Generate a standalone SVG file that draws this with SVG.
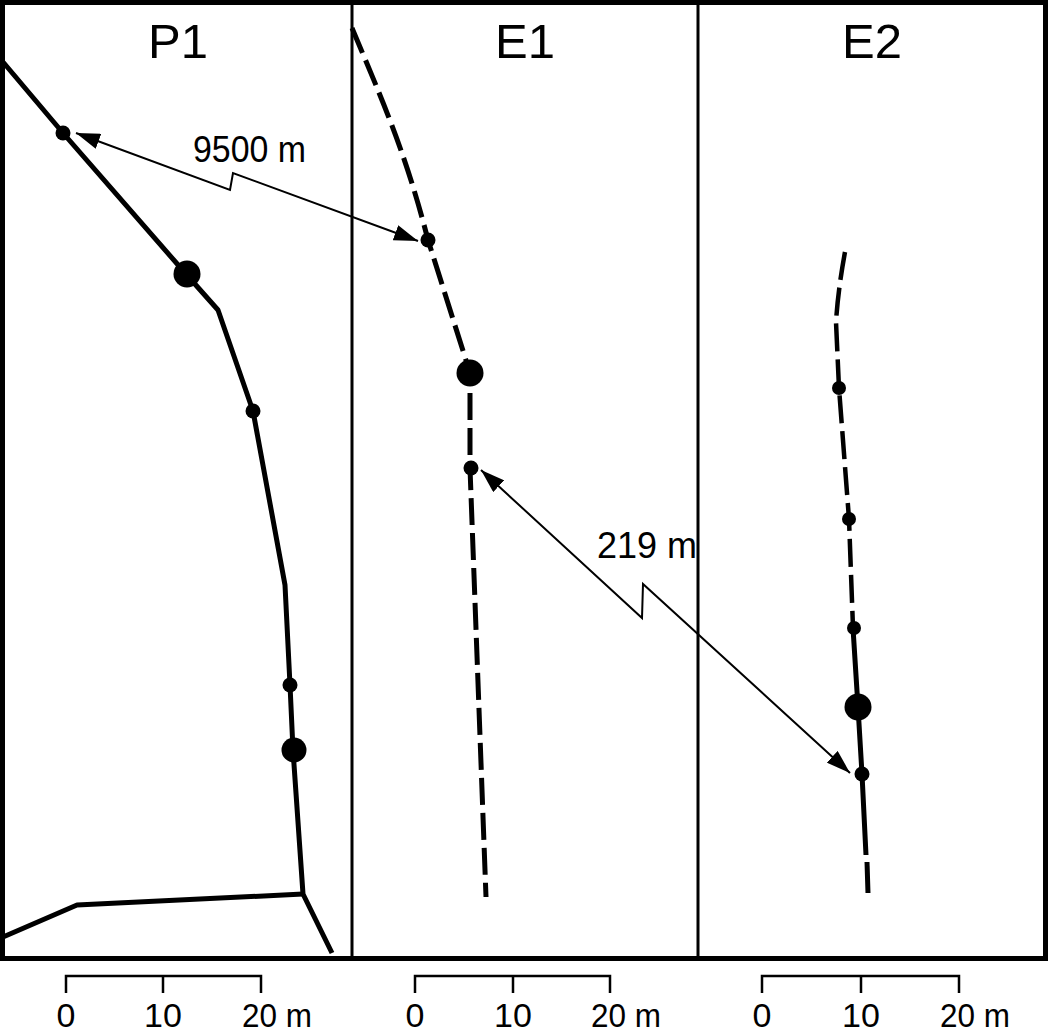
<svg xmlns="http://www.w3.org/2000/svg" width="1050" height="1034" viewBox="0 0 1050 1034">
<style>
text{font-family:"Liberation Sans",Arial,sans-serif;fill:#000}
.title{font-size:49px;text-anchor:middle}
.lab{font-size:36px}
.sc{font-size:34px;text-anchor:middle}
.scm{font-size:34px}
.well{fill:none;stroke:#000;stroke-width:5;stroke-linejoin:round}
.dash1{stroke-dasharray:27 8}
.dash2{stroke-width:4.5;stroke-dasharray:28 8}
.dot{fill:#000}
.arr{fill:none;stroke:#000;stroke-width:2;marker-start:url(#ah);marker-end:url(#ah)}
.bar{fill:none;stroke:#000;stroke-width:2.5}
</style>
<defs>
<marker id="ah" viewBox="0 0 24 16" refX="24" refY="8" markerWidth="24" markerHeight="16" markerUnits="userSpaceOnUse" orient="auto-start-reverse">
<path d="M0,0 L24,8 L0,16 Z" fill="#000"/>
</marker>
</defs>
<g id="frame">
<rect x="2.5" y="2.5" width="1043" height="956" fill="#fff" stroke="#000" stroke-width="5"/>
<line x1="352" y1="2" x2="352" y2="959" stroke="#000" stroke-width="3"/>
<line x1="698" y1="2" x2="698" y2="959" stroke="#000" stroke-width="3"/>
</g>
<g id="titles">
<text class="title" x="178" y="58">P1</text>
<text class="title" x="525" y="58">E1</text>
<text class="title" x="872" y="58">E2</text>
</g>
<g id="P1">
<path class="well" d="M3,62 L63,133 L186,274 L218,310 L253,411 L285,585 L290,685 L293,750 L303,894 L332,953"/>
<path class="well" d="M303,894 L77,905 L3,937"/>
<circle class="dot" cx="63" cy="133" r="7.5"/>
<circle class="dot" cx="187" cy="274" r="13.5"/>
<circle class="dot" cx="253" cy="411" r="7.5"/>
<circle class="dot" cx="290" cy="685" r="7.5"/>
<circle class="dot" cx="294" cy="750" r="12.5"/>
</g>
<g id="E1">
<path class="well dash1" d="M352,28 C380,95 405,150 428,240 L470,373 L470,468 L486,897"/>
<circle class="dot" cx="428" cy="240" r="7.5"/>
<circle class="dot" cx="470" cy="373" r="13.5"/>
<circle class="dot" cx="471" cy="468" r="7.5"/>
</g>
<g id="E2">
<path class="well dash2" d="M845,252 Q838,290 836,322 L839,388 L849,519 L853,628"/>
<path class="well" stroke-width="4.5" d="M853,628 L858,707 L862,774 L866,855"/>
<path class="well" stroke-width="4.5" d="M867,862 L868,893"/>
<circle class="dot" cx="839" cy="388" r="7"/>
<circle class="dot" cx="849" cy="519" r="7"/>
<circle class="dot" cx="854" cy="628" r="7"/>
<circle class="dot" cx="858" cy="707" r="13.5"/>
<circle class="dot" cx="862" cy="774" r="7.5"/>
</g>
<g id="connectors">
<path class="arr" d="M76,133 L230,190 L233,173 L418,241"/>
<path class="arr" d="M481,470 L642,618 L643,584 L850,773"/>
</g>
<g id="labels">
<text class="lab" x="193" y="162" font-size="37" textLength="113" lengthAdjust="spacingAndGlyphs">9500 m</text>
<text class="lab" x="597" y="558" font-size="35">219 m</text>
</g>
<g id="scales">
<path class="bar" d="M66,993 V976 H261 V993 M163,976 V993"/>
<path class="bar" d="M415,993 V976 H610 V993 M513,976 V993"/>
<path class="bar" d="M762,993 V976 H959 V993 M861,976 V993"/>
<text class="sc" x="66" y="1027">0</text>
<text class="sc" x="163" y="1027">10</text>
<text class="scm" x="242" y="1027" textLength="70" lengthAdjust="spacingAndGlyphs">20 m</text>
<text class="sc" x="415" y="1027">0</text>
<text class="sc" x="513" y="1027">10</text>
<text class="scm" x="591" y="1027" textLength="70" lengthAdjust="spacingAndGlyphs">20 m</text>
<text class="sc" x="762" y="1027">0</text>
<text class="sc" x="861" y="1027">10</text>
<text class="scm" x="940" y="1027" textLength="70" lengthAdjust="spacingAndGlyphs">20 m</text>
</g>
</svg>
